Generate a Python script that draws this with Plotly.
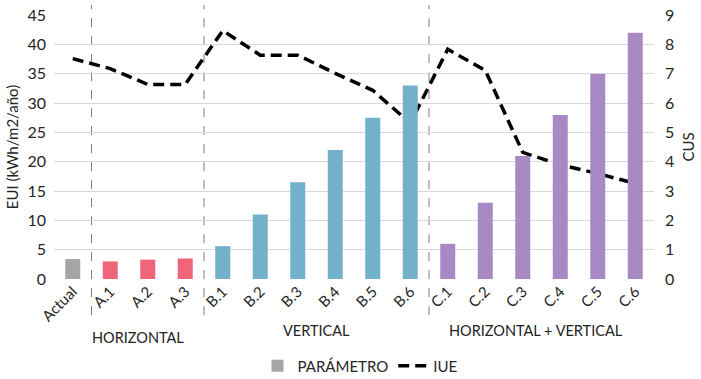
import plotly.graph_objects as go

categories = ["Actual", "A.1", "A.2", "A.3", "B.1", "B.2", "B.3", "B.4", "B.5", "B.6",
              "C.1", "C.2", "C.3", "C.4", "C.5", "C.6"]
cus_values = [0.68, 0.60, 0.66, 0.70, 1.12, 2.2, 3.3, 4.4, 5.5, 6.6,
              1.2, 2.6, 4.2, 5.6, 7.0, 8.4]
eui_values = [37.6, 35.9, 33.2, 33.2, 42.4, 38.2, 38.2, 35.1, 32.2, 26.6,
              39.2, 35.6, 21.6, 19.5, 18.0, 16.3]
groups = ["act"] + ["A"] * 3 + ["B"] * 6 + ["C"] * 6
group_colors = {"act": "#a5a5a5", "A": "#ef6579", "B": "#73b1cb", "C": "#a78ac4"}
bar_colors = [group_colors[g] for g in groups]

separators = [0.5, 3.5, 9.5]
group_labels = [("HORIZONTAL", 1.75, -0.22), ("VERTICAL", 6.5, -0.195), ("HORIZONTAL + VERTICAL", 12.35, -0.195)]

FONT = "Lato, Open Sans, sans-serif"

fig = go.Figure()
fig.add_trace(go.Bar(
    x=categories, y=cus_values, yaxis="y2", name="PARÁMETRO",
    marker=dict(color=bar_colors, line=dict(width=0)),
))
fig.add_trace(go.Scatter(
    x=categories, y=eui_values, yaxis="y", name="IUE", mode="lines",
    line=dict(color="black", width=3.5, dash="11px,6px"),
))

for s in separators:
    fig.add_shape(type="line", xref="x", yref="paper", x0=s, x1=s, y0=-0.137, y1=1.038,
                  line=dict(color="#7f7f7f", width=1, dash="dash"), layer="below")

for text, x, y in group_labels:
    fig.add_annotation(text=text, x=x, xref="x", y=y, yref="paper", showarrow=False,
                       font=dict(size=14.5, color="#222"), yanchor="middle")

fig.update_layout(
    width=701, height=379,
    margin=dict(l=54, r=47, t=15, b=100, autoexpand=False),
    paper_bgcolor="white", plot_bgcolor="white",
    font=dict(family=FONT, size=15, color="#262626"),
    bargap=0.6,
    showlegend=True,
    legend=dict(orientation="h", x=0.51, xanchor="center", y=-0.33, yanchor="middle",
                font=dict(size=15), traceorder="normal"),
    xaxis=dict(type="category", tickangle=-45, showgrid=False, ticks="", automargin=False,
               tickfont=dict(size=15), range=[-0.5, 15.5], showline=False),
    yaxis=dict(range=[0, 45.05], tickvals=[0, 5, 10, 15, 20, 25, 30, 35, 40, 45],
               showgrid=True, gridcolor="#d9d9d9", gridwidth=1, ticklabeloverflow="allow",
               zeroline=False, automargin=False, ticklabelstandoff=7,
               title=dict(text="EUI (kWh/m2/año)", font=dict(size=15), standoff=5),
               tickfont=dict(size=16), ticks=""),
    yaxis2=dict(range=[0, 9.01], tickvals=[0, 1, 2, 3, 4, 5, 6, 7, 8, 9],
                overlaying="y", side="right", showgrid=False, ticklabeloverflow="allow",
                zeroline=False, automargin=False, ticklabelstandoff=10,
                title=dict(text="CUS", font=dict(size=15), standoff=10),
                tickfont=dict(size=16), ticks=""),
)

# remove the page body's default 8px margin so the figure fills the window exactly
fig.write_html("out.html", config={"displayModeBar": False},
               post_script="document.body.style.margin='0';")
